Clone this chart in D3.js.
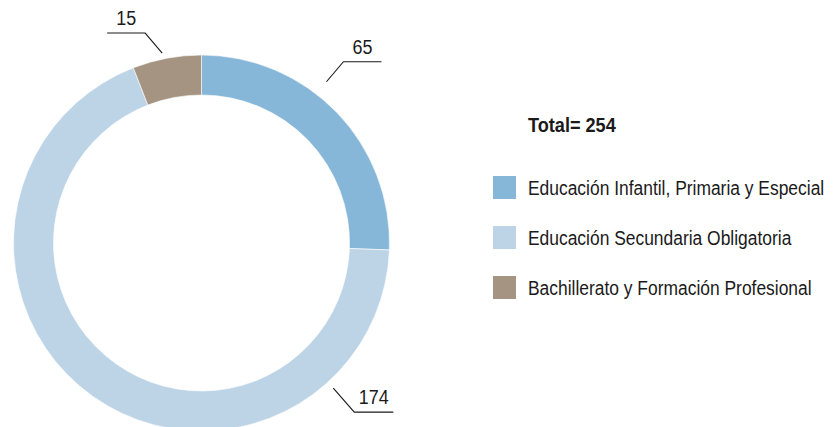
<!DOCTYPE html>
<html>
<head>
<meta charset="utf-8">
<script src="https://cdn.jsdelivr.net/npm/d3@7"></script>
<style>
  html, body { margin: 0; padding: 0; background: #fff; }
  svg { display: block; }
  text { font-family: "Liberation Sans", Arial, sans-serif; fill: #1a1a1a; }
</style>
</head>
<body>
<svg id="chart" width="834" height="427"></svg>
<script>
// Enrolment by educational stage
const categories = [
  "Educación Infantil, Primaria y Especial",
  "Educación Secundaria Obligatoria",
  "Bachillerato y Formación Profesional"
];
const values = [65, 174, 15];
const colors = ["#87b7d8", "#bdd4e7", "#a69483"];
const totalLabel = "Total= " + d3.sum(values);

// Where each callout leaves its slice: fraction along the slice's arc and
// radial distance, then the elbow offset and the horizontal shelf direction
const calloutFraction = [0.41, 0.185, 0.45];
const calloutRadius = [204, 196, 194];
const calloutElbow = [[17, -20], [21, 24], [-17, -20]];
const calloutShelf = [38, 39, -38];

// Condensed look: glyphs are narrowed horizontally around their anchor
function narrow(factor) {
  return sel => sel.attr("transform", function () {
    const x = +this.getAttribute("x"), y = +this.getAttribute("y");
    return `translate(${x},${y}) scale(${factor},1) translate(${-x},${-y})`;
  });
}

const svg = d3.select("#chart");
const cx = 201.5, cy = 243, outerR = 188, innerR = 148;

const pie = d3.pie().sort(null).value(d => d);
const arcs = pie(values);
const arc = d3.arc().innerRadius(innerR).outerRadius(outerR);

const g = svg.append("g").attr("transform", `translate(${cx},${cy})`);

g.selectAll("path.slice")
  .data(arcs)
  .join("path")
  .attr("class", "slice")
  .attr("d", arc)
  .attr("fill", (d, i) => colors[i])
  .attr("stroke", "#ffffff")
  .attr("stroke-width", 0.6);

// Value callouts
arcs.forEach((d, i) => {
  const a = d.startAngle + (d.endAngle - d.startAngle) * calloutFraction[i];
  const r = calloutRadius[i];
  const x0 = Math.sin(a) * r, y0 = -Math.cos(a) * r;
  const x1 = x0 + calloutElbow[i][0], y1 = y0 + calloutElbow[i][1];
  const x2 = x1 + calloutShelf[i];
  g.append("polyline")
    .attr("points", `${x0},${y0} ${x1},${y1} ${x2},${y1}`)
    .attr("fill", "none")
    .attr("stroke", "#1a1a1a")
    .attr("stroke-width", 1.1);
  g.append("text")
    .attr("x", (x1 + x2) / 2)
    .attr("y", y1 - 8)
    .attr("text-anchor", "middle")
    .attr("font-size", 19.5)
    .text(d.data)
    .call(narrow(0.92));
});

// Legend
const legend = svg.append("g").attr("transform", "translate(493,0)");
legend.append("text")
  .attr("x", 35)
  .attr("y", 132)
  .attr("font-size", 19.5)
  .attr("font-weight", "bold")
  .text(totalLabel)
  .call(narrow(0.93));

const items = legend.selectAll("g.item")
  .data(categories)
  .join("g")
  .attr("class", "item")
  .attr("transform", (d, i) => `translate(0,${176 + i * 50})`);

items.append("rect")
  .attr("width", 23)
  .attr("height", 23)
  .attr("fill", (d, i) => colors[i]);

items.append("text")
  .attr("x", 35)
  .attr("y", 19.5)
  .attr("font-size", 21)
  .text(d => d)
  .call(narrow(0.83));
</script>
</body>
</html>
